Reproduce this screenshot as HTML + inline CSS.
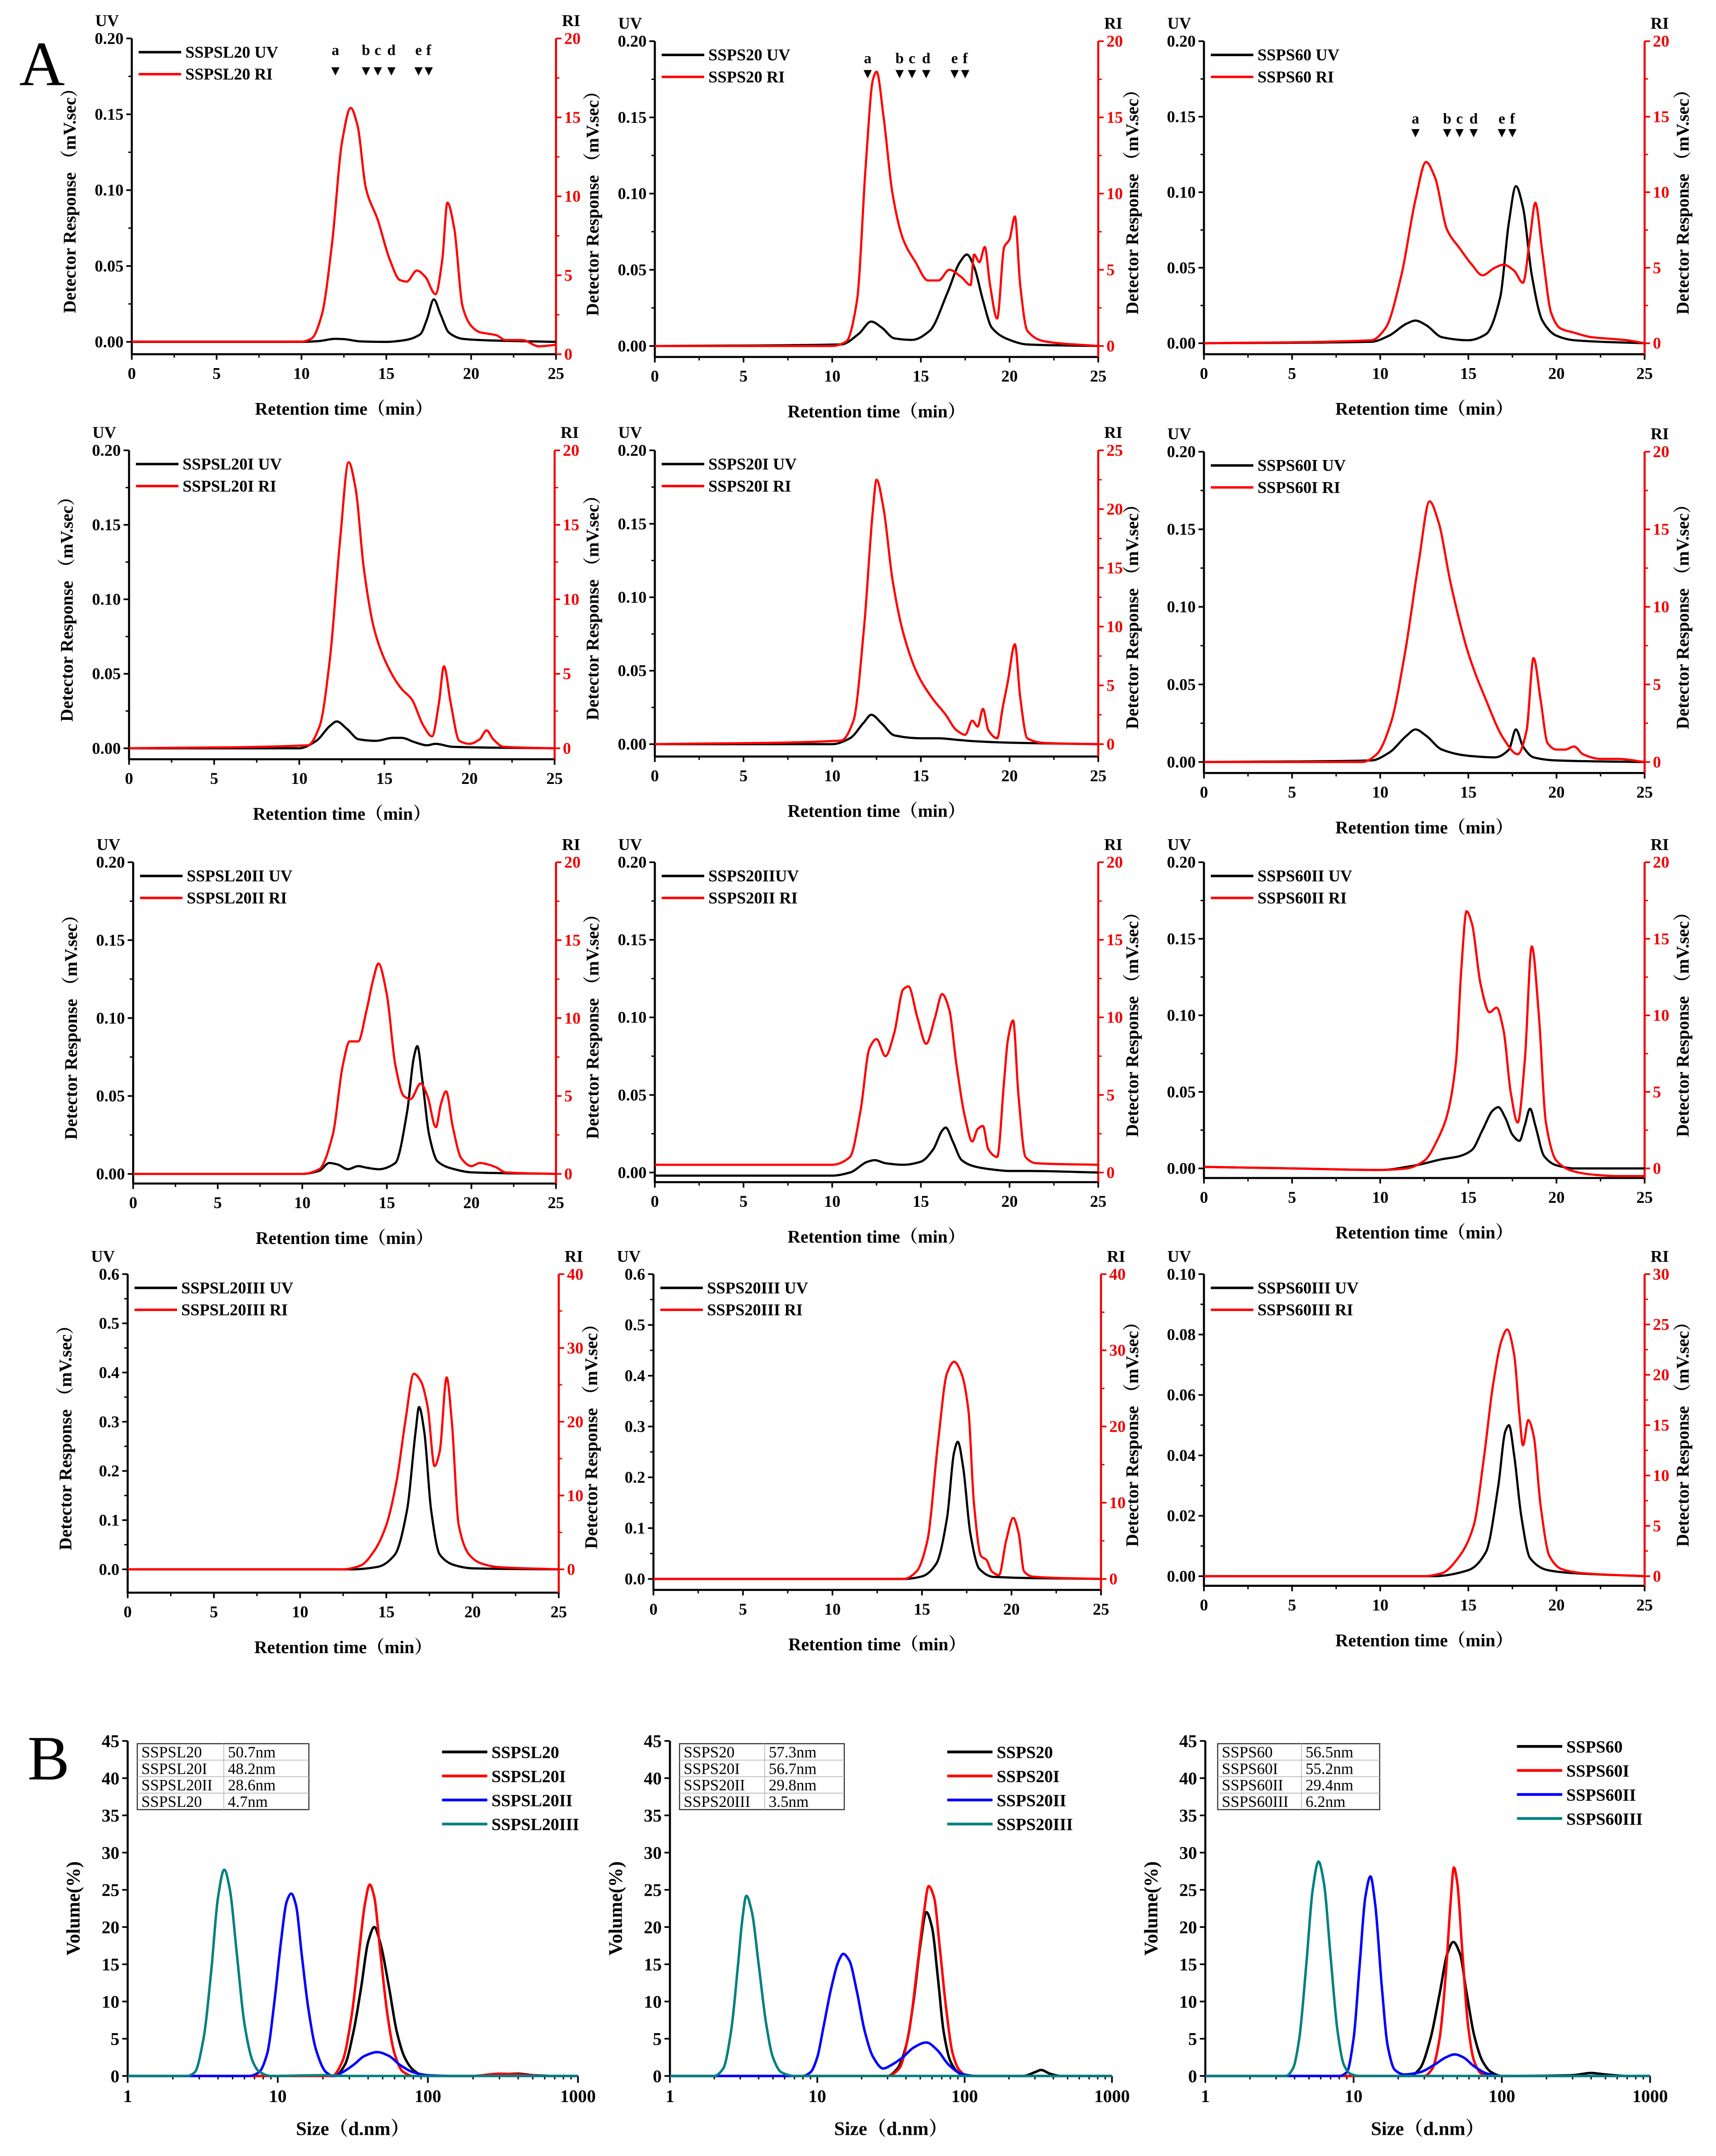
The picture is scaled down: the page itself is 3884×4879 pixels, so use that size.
<!DOCTYPE html>
<html><head><meta charset="utf-8"><style>
html,body{margin:0;padding:0;background:#fff;}
svg{display:block;}
text{font-family:"Liberation Serif","Noto Serif CJK SC",serif;}
</style></head><body>
<svg id="fig" xmlns="http://www.w3.org/2000/svg" width="3884" height="4879" viewBox="0 0 1250 1570.3" preserveAspectRatio="none">
<rect x="0" y="0" width="1250" height="1571" fill="#fff"/>
<text x="14" y="62" font-size="46">A</text>
<text x="20" y="1296" font-size="46">B</text>
</svg>
<script>
// ===== Chromatogram data (time min, value) =====
const uv_r1c1=[[0,0],[10,0],[11,0.0005],[12,0.002],[12.5,0.0018],[13.5,0.0003],[15,0],[16,0.001],[17,0.005],[17.4,0.015],[17.8,0.028],[18.2,0.018],[18.7,0.006],[19.5,0.002],[21,0.001],[25,0]];
const ri_r1c1=[[0,0.8],[10,0.8],[10.6,1.0],[11.2,2.5],[11.8,7],[12.4,13.5],[12.9,15.6],[13.3,14.5],[13.8,10.5],[14.5,8.5],[15.2,6],[15.8,4.7],[16.2,4.6],[16.8,5.3],[17.3,4.9],[17.9,3.8],[18.3,6],[18.6,9.6],[19,8],[19.5,3],[20,1.8],[20.5,1.4],[21,1.3],[21.5,1.2],[22,0.9],[23,0.9],[24,0.5],[25,0.6]];
const uv_r1c2=[[0,0],[10.5,0.001],[11.5,0.008],[12.2,0.016],[12.8,0.012],[13.5,0.005],[14.5,0.004],[15.5,0.01],[16.5,0.035],[17.2,0.055],[17.6,0.06],[18,0.052],[18.5,0.03],[19,0.012],[20,0.004],[21,0.001],[25,0]];
const ri_r1c2=[[0,0],[10,0],[10.8,0.3],[11.4,3],[11.9,12],[12.3,17.5],[12.5,18],[12.9,15],[13.4,10],[14,7],[14.7,5.5],[15.4,4.3],[16,4.3],[16.6,5],[17.3,4.5],[17.8,4],[18,6],[18.3,5.5],[18.6,6.5],[18.9,4],[19.3,1.8],[19.7,6.5],[20,7],[20.3,8.5],[20.6,4],[21,1],[22,0.3],[25,0]];
const uv_r1c3=[[0,0],[9.5,0.001],[10.5,0.005],[11.5,0.013],[12,0.015],[12.6,0.012],[13.5,0.004],[15,0.002],[16,0.006],[16.8,0.03],[17.3,0.08],[17.7,0.104],[18.1,0.09],[18.6,0.045],[19.2,0.015],[20,0.005],[21,0.002],[25,0]];
const ri_r1c3=[[0,0],[9.5,0.2],[10.3,1],[11.2,4.5],[12,9.5],[12.6,12],[13.1,11],[13.8,7.5],[14.5,6.3],[15.2,5.2],[15.8,4.5],[16.5,5],[17,5.2],[17.6,4.8],[18.1,4],[18.5,7],[18.8,9.3],[19.2,6],[19.7,2],[20.2,1],[21,0.7],[22,0.4],[23,0.3],[24,0.2],[25,0]];
const uv_r2c1=[[0,0],[10,0],[11,0.005],[11.8,0.015],[12.2,0.018],[12.8,0.013],[13.5,0.006],[14.5,0.005],[15.5,0.007],[16,0.007],[16.8,0.004],[17.5,0.002],[18,0.003],[19,0.001],[25,0]];
const ri_r2c1=[[0,0],[10.5,0.2],[11.2,1.5],[11.8,6],[12.4,14],[12.9,19.2],[13.3,17.5],[13.8,12],[14.4,8],[15.2,5.5],[16,4],[16.6,3.3],[17.3,1.5],[17.8,0.8],[18.2,3],[18.5,5.5],[18.9,3],[19.4,0.5],[20,0.3],[20.6,0.6],[21,1.2],[21.4,0.6],[22,0.1],[25,0]];
const uv_r2c2=[[0,0],[10,0],[11,0.004],[11.8,0.015],[12.2,0.02],[12.8,0.014],[13.5,0.006],[15,0.004],[16,0.004],[17,0.003],[18,0.002],[20,0.001],[25,0]];
const ri_r2c2=[[0,0],[10.5,0.3],[11.2,2],[11.8,10],[12.3,20],[12.5,22.5],[12.9,20],[13.4,14],[14,9.5],[14.8,6],[15.6,4],[16.4,2.5],[17,1.2],[17.5,0.8],[17.9,2],[18.2,1.5],[18.5,3],[18.8,1.2],[19.3,0.5],[19.6,3],[19.9,5.3],[20.3,8.5],[20.6,4],[21,0.5],[22,0.1],[25,0]];
const uv_r2c3=[[0,0],[9.5,0.001],[10.5,0.006],[11.5,0.017],[12,0.021],[12.6,0.017],[13.5,0.008],[15,0.004],[16.5,0.003],[17.3,0.008],[17.7,0.021],[18.1,0.01],[18.7,0.003],[20,0.001],[25,0]];
const ri_r2c3=[[0,0],[9,0],[9.8,0.5],[10.6,2.5],[11.4,7],[12.2,13],[12.8,16.8],[13.3,15.5],[14,11.5],[15,7],[16,4],[17,1.5],[17.8,0.5],[18.3,2],[18.7,6.7],[19.1,4],[19.5,1.2],[20,0.8],[20.5,0.8],[21,1],[21.5,0.5],[22.5,0.2],[23.5,0.2],[25,0]];
const uv_r3c1=[[0,0],[10,0],[11,0.002],[11.6,0.007],[12.1,0.006],[12.7,0.003],[13.3,0.005],[13.8,0.004],[14.5,0.003],[15.5,0.007],[16.2,0.04],[16.6,0.075],[16.8,0.082],[17.1,0.06],[17.5,0.025],[18,0.008],[19,0.003],[20,0.001],[25,0]];
const ri_r3c1=[[0,0],[10,0],[11,0.3],[11.8,2.5],[12.4,7],[12.8,8.5],[13.3,8.5],[13.8,10.5],[14.2,12.5],[14.5,13.5],[15,11.5],[15.5,7],[16,5],[16.4,4.8],[17,5.8],[17.4,5],[17.9,3],[18.2,4.5],[18.5,5.3],[18.9,3],[19.4,1],[20,0.5],[20.5,0.7],[21,0.6],[21.5,0.4],[22,0.1],[25,0]];
const uv_r3c2=[[0,-0.002],[10,-0.002],[11,0],[12,0.007],[12.4,0.008],[13,0.006],[14,0.005],[15,0.007],[15.7,0.015],[16.2,0.027],[16.4,0.029],[16.8,0.02],[17.3,0.008],[18,0.004],[19,0.002],[20,0.001],[21,0.001],[25,0]];
const ri_r3c2=[[0,0.5],[10,0.5],[11,1],[11.6,4],[12.1,8],[12.5,8.6],[13,7.5],[13.5,9],[14,11.8],[14.3,12],[14.8,10],[15.3,8.3],[15.8,10],[16.2,11.5],[16.6,10.5],[17,7],[17.5,3.5],[17.9,2],[18.2,2.8],[18.5,3],[18.8,1.5],[19.3,1],[19.7,6],[19.9,8.5],[20.2,9.8],[20.5,5],[20.9,1],[21.5,0.6],[25,0.5]];
const uv_r3c3=[[0,0.001],[5,0],[10,-0.001],[12,0.002],[13.5,0.006],[14.5,0.008],[15.2,0.012],[15.8,0.025],[16.4,0.038],[16.7,0.04],[17.1,0.033],[17.5,0.022],[17.9,0.018],[18.2,0.028],[18.5,0.039],[18.8,0.028],[19.3,0.008],[20,0.002],[21,0],[25,0]];
const ri_r3c3=[[0,0.1],[5,0],[10,-0.1],[11.5,0],[12.5,0.5],[13.3,2],[13.8,3.5],[14.3,7],[14.6,13],[14.9,16.8],[15.2,16],[15.7,12],[16.2,10.2],[16.6,10.5],[17,9],[17.4,5],[17.8,3],[18.2,7],[18.6,14.5],[19,10],[19.4,3],[20,0.5],[21,-0.2],[22,-0.4],[23.5,-0.5],[25,-0.5]];
const uv_r4c1=[[0,0],[13,0],[14.5,0.005],[15.5,0.03],[16.2,0.12],[16.7,0.28],[16.9,0.33],[17.2,0.28],[17.6,0.12],[18.1,0.03],[19,0.008],[20,0.002],[25,0]];
const ri_r4c1=[[0,0],[12.5,0],[13.5,0.5],[14.3,2.5],[15,6],[15.6,12],[16.1,20],[16.6,26.5],[17,25.5],[17.4,22],[17.8,14],[18.1,16],[18.5,26],[18.8,20],[19.2,6],[19.8,2],[20.5,0.8],[21.5,0.3],[25,0]];
const uv_r4c2=[[0,0],[14,0],[15,0.005],[15.8,0.03],[16.4,0.12],[16.8,0.25],[17,0.27],[17.3,0.22],[17.7,0.09],[18.2,0.02],[19,0.004],[25,0]];
const ri_r4c2=[[0,0],[14,0],[14.7,1],[15.3,5],[15.9,18],[16.4,27],[16.8,28.5],[17.2,27],[17.6,22],[17.9,10],[18.3,3],[18.6,2.5],[18.9,1],[19.3,0.5],[19.7,5],[20.1,8],[20.4,6],[20.7,1],[21.2,0.3],[25,0]];
const uv_r4c3=[[0,0],[13,0],[15,0.002],[16,0.008],[16.7,0.03],[17.1,0.048],[17.3,0.05],[17.6,0.04],[18,0.02],[18.5,0.006],[19.5,0.002],[21,0.001],[25,0]];
const ri_r4c3=[[0,0],[12.5,0],[13.5,0.3],[14.5,2],[15.3,5],[15.9,12],[16.4,19],[16.9,23.5],[17.2,24.5],[17.6,22],[17.9,16],[18.1,13],[18.4,15.5],[18.7,14],[19.1,7],[19.6,2],[20.3,0.7],[21.5,0.3],[25,0]];
const markerLetters=["a","b","c","d","e","f"];
const markerTimes=[12.0,13.8,14.5,15.3,16.9,17.5];
const xTickLabels=[0,5,10,15,20,25];

// ===== DLS data (size nm, volume %) =====
const dls_b1_0=[[1,0],[24,0],[28,1.5],[32,6],[36,12],[40,18],[44,20],[48,18],[55,12],[62,6],[70,2.5],[80,0.8],[95,0],[200,0],[300,0.2],[400,0.3],[500,0.1],[700,0],[1000,0]];
const dls_b1_1=[[1,0],[23,0],[27,2],[31,8],[35,17],[38,23],[41,25.7],[44,24],[48,17],[54,8],[60,3],[68,0.6],[80,0],[200,0],[300,0.3],[400,0.2],[600,0],[1000,0]];
const dls_b1_2=[[1,0],[6.5,0],[7.5,0.5],[8.5,3],[9.5,10],[10.5,18],[11.5,23.5],[12.3,24.5],[13.2,23],[14.5,16],[16,9],[18,3.5],[21,0.5],[23.5,0],[27,0.5],[32,1.5],[38,2.7],[46,3.2],[55,2.7],[65,1.5],[80,0.5],[100,0.1],[150,0],[1000,0]];
const dls_b1_3=[[1,0],[2.5,0],[2.8,0.5],[3.2,5],[3.6,14],[4.0,24],[4.4,27.7],[4.8,25],[5.3,17],[6,7],[6.8,2],[7.5,0.6],[9,0],[20,0.1],[30,0],[1000,0]];
const dls_b2_0=[[1,0],[30,0],[35,1],[40,4],[45,10],[50,17.5],[55,22],[60,20],[66,13],[72,6],[80,2],[90,0.5],[100,0],[250,0],[300,0.5],[330,0.8],[380,0.3],[450,0],[1000,0]];
const dls_b2_1=[[1,0],[30,0],[36,1],[42,6],[48,15],[53,22],[57,25.5],[62,24],[68,17],[75,9],[83,3],[92,0.8],[105,0],[1000,0]];
const dls_b2_2=[[1,0],[8,0],[9,0.5],[10,2.5],[11,6.5],[12.5,12],[14,15.5],[15,16.4],[16.5,15.5],[18.5,11.5],[21,6],[24,2.5],[28,1],[32,1.5],[38,2.5],[45,3.8],[55,4.5],[65,3.5],[78,1.5],[95,0.3],[120,0],[1000,0]];
const dls_b2_3=[[1,0],[2,0],[2.3,1],[2.6,6],[2.9,15],[3.1,21],[3.3,24.2],[3.6,22],[4,15],[4.5,7],[5,2.5],[5.7,0.5],[7,0],[1000,0]];
const dls_b3_0=[[1,0],[24,0],[28,1],[33,5],[38,11],[43,16.5],[47,18],[52,16.5],[58,11],[65,5.5],[74,2],[85,0.5],[100,0],[300,0.1],[400,0.4],[500,0.2],[700,0],[1000,0]];
const dls_b3_1=[[1,0],[30,0],[34,1],[38,5],[42,14],[45,23],[47.5,28],[50,26],[54,17],[59,7],[65,2],[73,0.3],[85,0],[1000,0]];
const dls_b3_2=[[1,0],[8,0],[9,0.5],[10,5],[11,15],[12,24],[13,26.8],[14,23],[15.5,12],[17,4],[19,0.8],[22,0.2],[28,0.5],[35,1.5],[42,2.5],[48,2.9],[55,2.5],[65,1.3],[80,0.3],[100,0],[1000,0]];
const dls_b3_3=[[1,0],[3.5,0],[3.9,1],[4.3,5],[4.8,15],[5.3,25],[5.8,28.8],[6.3,26],[7,16],[7.8,6],[8.6,1.5],[9.5,0.3],[11,0],[1000,0]];
const dlsYTicks=[0,5,10,15,20,25,30,35,40,45];
const dlsXTicks=[1,10,100,1000];
const tableB1=[["SSPSL20","50.7nm"],["SSPSL20I","48.2nm"],["SSPSL20II","28.6nm"],["SSPSL20","4.7nm"]];
const tableB2=[["SSPS20","57.3nm"],["SSPS20I","56.7nm"],["SSPS20II","29.8nm"],["SSPS20III","3.5nm"]];
const tableB3=[["SSPS60","56.5nm"],["SSPS60I","55.2nm"],["SSPS60II","29.4nm"],["SSPS60III","6.2nm"]];

const NS="http://www.w3.org/2000/svg";
const svg=document.getElementById('fig');
function mk(tag,parent){const e=document.createElementNS(NS,tag);parent.appendChild(e);return e;}
// monotone cubic (Fritsch-Carlson) through screen points with increasing x
function smooth(pts){
  const n=pts.length;if(!n)return "";
  const dx=[],s=[];
  for(let i=0;i<n-1;i++){dx.push(pts[i+1][0]-pts[i][0]);s.push((pts[i+1][1]-pts[i][1])/dx[i]);}
  const m=new Array(n);
  m[0]=s[0];m[n-1]=s[n-2];
  for(let i=1;i<n-1;i++){
    if(s[i-1]*s[i]<=0)m[i]=0;
    else{const w1=2*dx[i]+dx[i-1],w2=dx[i]+2*dx[i-1];m[i]=(w1+w2)/(w1/s[i-1]+w2/s[i]);}
  }
  let d="M"+pts[0][0].toFixed(2)+","+pts[0][1].toFixed(2);
  for(let i=0;i<n-1;i++){
    const h=dx[i];
    const c1x=pts[i][0]+h/3,c1y=pts[i][1]+m[i]*h/3;
    const c2x=pts[i+1][0]-h/3,c2y=pts[i+1][1]-m[i+1]*h/3;
    d+="C"+c1x.toFixed(2)+","+c1y.toFixed(2)+" "+c2x.toFixed(2)+","+c2y.toFixed(2)+" "+pts[i+1][0].toFixed(2)+","+pts[i+1][1].toFixed(2);
  }
  return d;
}
function txt(parent,x,y,s,size,opts){
  const t=mk('text',parent);t.setAttribute('x',x);t.setAttribute('y',y);t.setAttribute('font-size',size);
  if(opts&&opts.bold)t.setAttribute('font-weight','bold');
  if(opts&&opts.anchor)t.setAttribute('text-anchor',opts.anchor);
  if(opts&&opts.fill)t.setAttribute('fill',opts.fill);
  if(opts&&opts.rot)t.setAttribute('transform','rotate(-90 '+x+' '+y+')');
  t.textContent=s;return t;
}
function line(parent,x1,y1,x2,y2,stroke,w){
  const l=mk('line',parent);l.setAttribute('x1',x1);l.setAttribute('y1',y1);l.setAttribute('x2',x2);l.setAttribute('y2',y2);
  l.setAttribute('stroke',stroke);l.setAttribute('stroke-width',w);return l;
}

// ===== Chromatogram panels =====
const panels=[
 {id:'r1c1',x0:96,x1:405,top:28,uv0:249,bot:258,uvMax:.2,uvStep:.05,uvDec:2,riMax:20,riStep:5,ri0:258,uvName:'SSPSL20 UV',riName:'SSPSL20 RI',uv:uv_r1c1,ri:ri_r1c1,mk:{ly:40,ty:52}},
 {id:'r1c2',x0:477,x1:800,top:30,uv0:252,bot:260,uvMax:.2,uvStep:.05,uvDec:2,riMax:20,riStep:5,ri0:252,uvName:'SSPS20 UV',riName:'SSPS20 RI',uv:uv_r1c2,ri:ri_r1c2,mk:{ly:46,ty:54}},
 {id:'r1c3',x0:877,x1:1198,top:30,uv0:250,bot:258,uvMax:.2,uvStep:.05,uvDec:2,riMax:20,riStep:5,ri0:250,uvName:'SSPS60 UV',riName:'SSPS60 RI',uv:uv_r1c3,ri:ri_r1c3,mk:{ly:90,ty:97}},
 {id:'r2c1',x0:94,x1:404,top:328,uv0:545,bot:553,uvMax:.2,uvStep:.05,uvDec:2,riMax:20,riStep:5,ri0:545,uvName:'SSPSL20I UV',riName:'SSPSL20I RI',uv:uv_r2c1,ri:ri_r2c1},
 {id:'r2c2',x0:477,x1:800,top:328,uv0:542,bot:551,uvMax:.2,uvStep:.05,uvDec:2,riMax:25,riStep:5,ri0:542,uvName:'SSPS20I UV',riName:'SSPS20I RI',uv:uv_r2c2,ri:ri_r2c2},
 {id:'r2c3',x0:877,x1:1198,top:329,uv0:555,bot:563,uvMax:.2,uvStep:.05,uvDec:2,riMax:20,riStep:5,ri0:555,uvName:'SSPS60I UV',riName:'SSPS60I RI',uv:uv_r2c3,ri:ri_r2c3},
 {id:'r3c1',x0:97,x1:405,top:628,uv0:855,bot:862,uvMax:.2,uvStep:.05,uvDec:2,riMax:20,riStep:5,ri0:855,uvName:'SSPSL20II UV',riName:'SSPSL20II RI',uv:uv_r3c1,ri:ri_r3c1},
 {id:'r3c2',x0:477,x1:800,top:628,uv0:854,bot:861,uvMax:.2,uvStep:.05,uvDec:2,riMax:20,riStep:5,ri0:854,uvName:'SSPS20IIUV',riName:'SSPS20II RI',uv:uv_r3c2,ri:ri_r3c2},
 {id:'r3c3',x0:877,x1:1198,top:628,uv0:851,bot:858,uvMax:.2,uvStep:.05,uvDec:2,riMax:20,riStep:5,ri0:851,uvName:'SSPS60II UV',riName:'SSPS60II RI',uv:uv_r3c3,ri:ri_r3c3},
 {id:'r4c1',x0:93,x1:407,top:928,uv0:1143,bot:1160,uvMax:.6,uvStep:.1,uvDec:1,riMax:40,riStep:10,ri0:1143,uvName:'SSPSL20III UV',riName:'SSPSL20III RI',uv:uv_r4c1,ri:ri_r4c1},
 {id:'r4c2',x0:476,x1:802,top:928,uv0:1150,bot:1158,uvMax:.6,uvStep:.1,uvDec:1,riMax:40,riStep:10,ri0:1150,uvName:'SSPS20III UV',riName:'SSPS20III RI',uv:uv_r4c2,ri:ri_r4c2},
 {id:'r4c3',x0:877,x1:1198,top:928,uv0:1148,bot:1155,uvMax:.1,uvStep:.02,uvDec:2,riMax:30,riStep:5,ri0:1148,uvName:'SSPS60III UV',riName:'SSPS60III RI',uv:uv_r4c3,ri:ri_r4c3}
];
panels.forEach((p,pi)=>{
  const col=pi%3;
  const g=mk('g',svg);
  
  
  const xs=t=>p.x0+(t/25)*(p.x1-p.x0);
  const yu=v=>p.uv0-(v/p.uvMax)*(p.uv0-p.top);
  const yr=v=>p.ri0-(v/p.riMax)*(p.ri0-p.top);
  const ga=mk('g',g);
  
  
  line(ga,p.x0,p.top,p.x0,p.bot,'#000',1.5);
  line(ga,p.x0-0.7,p.bot,p.x1,p.bot,'#000',1.5);
  line(ga,p.x1,p.top,p.x1,p.bot+0.7,'#e00',1.5);
  const nU=Math.round(p.uvMax/p.uvStep);
  for(let i=0;i<=nU;i++){
    const v=i*p.uvStep,y=yu(v);
    line(ga,p.x0-4,y,p.x0,y,'#000',1.2);
    if(i<nU)line(ga,p.x0-2.5,yu(v+p.uvStep/2),p.x0,yu(v+p.uvStep/2),'#000',1);
    const lb=txt(ga,p.x0-6,y+4,v.toFixed(p.uvDec),12,{bold:1,anchor:'end'});
    
    
  }
  const nR=Math.round(p.riMax/p.riStep);
  for(let i=0;i<=nR;i++){
    const v=i*p.riStep,y=yr(v);
    line(ga,p.x1,y,p.x1+4,y,'#e00',1.2);
    if(i<nR)line(ga,p.x1,yr(v+p.riStep/2),p.x1+2.5,yr(v+p.riStep/2),'#e00',1);
    const lb=txt(ga,p.x1+6,y+4,String(v),12,{bold:1,fill:'#e00'});
    
    
  }
  xTickLabels.forEach((t,i)=>{
    const x=xs(t);
    line(ga,x,p.bot,x,p.bot+4,'#000',1.2);
    if(i<xTickLabels.length-1)line(ga,xs(t+2.5),p.bot,xs(t+2.5),p.bot+2.5,'#000',1);
    const lb=txt(ga,x,p.bot+18,String(t),12,{bold:1,anchor:'middle'});
    
    
  });
  const u=txt(ga,p.x0-18,p.top-9,'UV',12,{bold:1,anchor:'middle'});
  
  
  const r=txt(ga,p.x1+11,p.top-9,'RI',12,{bold:1,anchor:'middle'});
  
  
  const mid=(p.top+p.bot)/2;
  const yl=txt(ga,p.x0-(col===2?48:41),mid,'Detector Response （mV.sec）',13,{bold:1,anchor:'middle',rot:1});
  
  
  if(col===2){
    const yr2=txt(ga,p.x1+32,mid,'Detector Response （mV.sec）',13,{bold:1,anchor:'middle',rot:1});
    
    
  }
  const xl=txt(ga,(p.x0+p.x1)/2,p.bot+44,'Retention time（min）',13,{bold:1,anchor:'middle'});
  
  
  const pu=mk('path',g);
  pu.setAttribute('d',smooth(p.uv.map(d=>[xs(d[0]),yu(d[1])])));
  pu.setAttribute('fill','none');pu.setAttribute('stroke','#000');pu.setAttribute('stroke-width',1.6);
  
  
  const pr=mk('path',g);
  pr.setAttribute('d',smooth(p.ri.map(d=>[xs(d[0]),yr(d[1])])));
  pr.setAttribute('fill','none');pr.setAttribute('stroke','#f00');pr.setAttribute('stroke-width',1.6);
  
  
  const gl=mk('g',g);
  
  
  [[p.uvName,'#000',p.top+10],[p.riName,'#f00',p.top+26]].forEach(e=>{
    line(gl,p.x0+5,e[2],p.x0+36,e[2],e[1],1.8);
    const lt=txt(gl,p.x0+39,e[2]+4,e[0],12,{bold:1});
    
    
  });
  if(p.mk){
    const gm=mk('g',g);
    
    
    markerTimes.forEach((t,i)=>{
      const x=xs(t);
      const lt=txt(gm,x,p.mk.ly,markerLetters[i],11,{bold:1,anchor:'middle'});
      
      
      const tri=mk('polygon',gm);
      tri.setAttribute('points',(x-3)+','+(p.mk.ty-3)+' '+(x+3)+','+(p.mk.ty-3)+' '+x+','+(p.mk.ty+3));
      tri.setAttribute('fill','#000');
      
      
    });
  }
});

// ===== DLS panels =====
const dlsColors=['#000','#f00','#00f','#008080'];
const dlsPanels=[
 {id:'b1',x0:93,x1:421,top:1268,bot:1512,series:[dls_b1_0,dls_b1_1,dls_b1_2,dls_b1_3],names:['SSPSL20','SSPSL20I','SSPSL20II','SSPSL20III'],table:tableB1,tb:[100,225,163],lg:[322,1276]},
 {id:'b2',x0:488,x1:810,top:1268,bot:1512,series:[dls_b2_0,dls_b2_1,dls_b2_2,dls_b2_3],names:['SSPS20','SSPS20I','SSPS20II','SSPS20III'],table:tableB2,tb:[495,615,557],lg:[690,1276]},
 {id:'b3',x0:878,x1:1202,top:1268,bot:1512,series:[dls_b3_0,dls_b3_1,dls_b3_2,dls_b3_3],names:['SSPS60','SSPS60I','SSPS60II','SSPS60III'],table:tableB3,tb:[887,1005,948],lg:[1105,1272]}
];
dlsPanels.forEach(p=>{
  const g=mk('g',svg);
  
  
  const xs=s=>p.x0+(Math.log10(s)/3)*(p.x1-p.x0);
  const ys=v=>p.bot-(v/45)*(p.bot-p.top);
  const ga=mk('g',g);
  
  
  line(ga,p.x0,p.top,p.x0,p.bot,'#000',1.5);
  line(ga,p.x0-0.7,p.bot,p.x1,p.bot,'#000',1.5);
  dlsYTicks.forEach(v=>{
    const y=ys(v);
    line(ga,p.x0-4,y,p.x0,y,'#000',1.2);
    const lb=txt(ga,p.x0-6,y+4.5,String(v),13,{bold:1,anchor:'end'});
    
    
  });
  dlsXTicks.forEach((s,i)=>{
    const x=xs(s);
    line(ga,x,p.bot,x,p.bot+5,'#000',1.2);
    if(i<dlsXTicks.length-1)for(let k=2;k<=9;k++){const xm=xs(s*k);line(ga,xm,p.bot,xm,p.bot+2.5,'#000',1);}
    const lb=txt(ga,x,p.bot+19,String(s),13,{bold:1,anchor:'middle'});
    
    
  });
  const yl=txt(ga,p.x0-35,(p.top+p.bot)/2,'Volume(%)',14,{bold:1,anchor:'middle',rot:1});
  
  
  const xl=txt(ga,(p.x0+p.x1)/2,p.bot+43,'Size（d.nm）',14,{bold:1,anchor:'middle'});
  
  
  p.series.forEach((s,i)=>{
    const pa=mk('path',g);
    pa.setAttribute('d',smooth(s.map(d=>[xs(d[0]),ys(d[1])])));
    pa.setAttribute('fill','none');pa.setAttribute('stroke',dlsColors[i]);pa.setAttribute('stroke-width',1.8);
    
    
  });
  const gt=mk('g',g);
  
  
  const ty0=p.top+2,rh=12;
  const rect=mk('rect',gt);
  rect.setAttribute('x',p.tb[0]);rect.setAttribute('y',ty0);rect.setAttribute('width',p.tb[1]-p.tb[0]);rect.setAttribute('height',rh*4);
  rect.setAttribute('fill','#fff');rect.setAttribute('stroke','#333');rect.setAttribute('stroke-width',0.8);
  line(gt,p.tb[2],ty0,p.tb[2],ty0+rh*4,'#bbb',0.6);
  p.table.forEach((row,i)=>{
    if(i>0)line(gt,p.tb[0],ty0+rh*i,p.tb[1],ty0+rh*i,'#bbb',0.6);
    const a=txt(gt,p.tb[0]+3,ty0+rh*i+10,row[0],11.5,{});
    
    
    const b=txt(gt,p.tb[2]+3,ty0+rh*i+10,row[1],11.5,{});
    
    
  });
  const gl=mk('g',g);
  
  
  p.names.forEach((n,i)=>{
    const y=p.lg[1]+i*17.5;
    line(gl,p.lg[0],y,p.lg[0]+33,y,dlsColors[i],2);
    const lt=txt(gl,p.lg[0]+36,y+4.5,n,12.5,{bold:1});
    
    
  });
});
</script>
</body></html>
